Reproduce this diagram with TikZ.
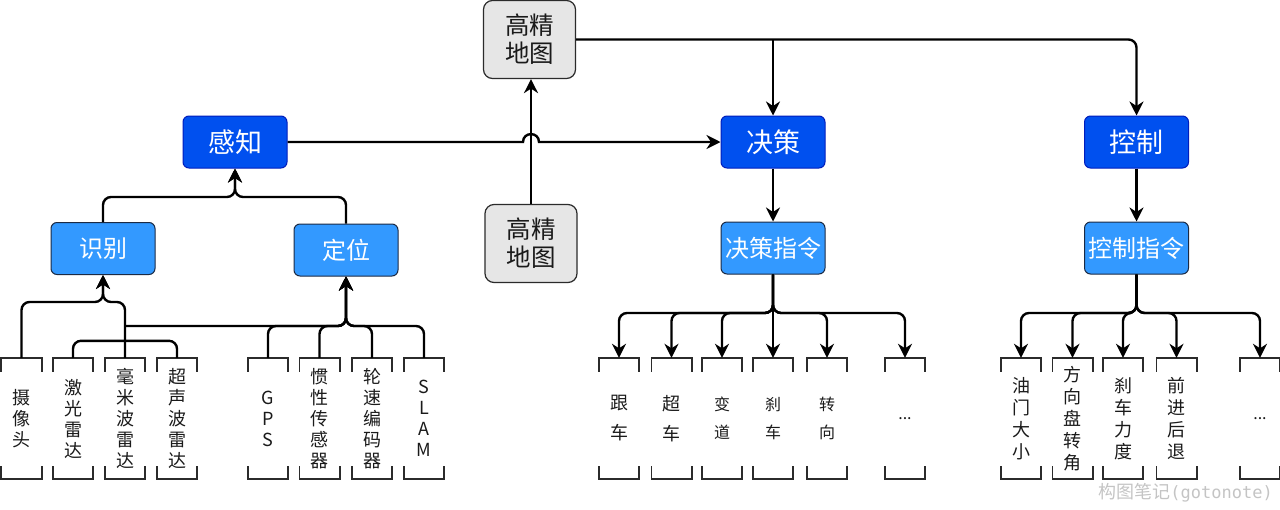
\documentclass[tikz,border=0pt]{standalone}
\usepackage{fontspec}
\setmainfont{Noto Sans CJK SC}
\newfontfamily\wmmono{DejaVu Sans Mono}
\usetikzlibrary{arrows.meta,calc}
\definecolor{dblue}{HTML}{0050EF}
\definecolor{dbluedraw}{HTML}{001DBC}
\definecolor{lblue}{HTML}{3399FF}
\definecolor{lbluedraw}{HTML}{1B2A44}
\definecolor{gfill}{HTML}{E6E6E6}
\definecolor{gdraw}{HTML}{2B2B2B}
\definecolor{txtc}{HTML}{1A1A1A}
\definecolor{wmc}{HTML}{C4C4C4}
\begin{document}
\begin{tikzpicture}[x=1pt,y=-1pt,
  conn/.style={line width=2.4pt, draw=black, rounded corners=8pt},
  arr/.style={conn, -{Stealth[length=14pt,width=14pt,inset=4.5pt]}},
  bluebase/.style={rounded corners=6pt, line width=1pt, minimum width=104pt,
    minimum height=52pt, inner sep=0pt, text=white},
  dbox/.style={bluebase, fill=dblue, draw=dbluedraw, font=\fontsize{27}{30}\selectfont},
  lbox/.style={bluebase, fill=lblue, draw=lbluedraw, font=\fontsize{24}{28}\selectfont},
  gbox/.style={rounded corners=9pt, line width=1.2pt, fill=gfill, draw=gdraw,
    minimum width=92pt, minimum height=78pt, inner sep=0pt, align=center,
    text=txtc, font=\fontsize{24.5}{28}\selectfont},
  brk/.style={minimum width=40pt, minimum height=121pt, inner sep=0pt,
    align=center, text=txtc, font=\fontsize{18}{21}\selectfont},
  brkwide/.style={brk, font=\fontsize{18}{30}\selectfont},
  brksmall/.style={brk, font=\fontsize{16}{28}\selectfont},
  brkmid/.style={brk, font=\fontsize{18}{22}\selectfont},
  brkline/.style={line width=1.6pt, draw=gdraw}
]
\useasboundingbox (0,0) rectangle (1280,509);

% main boxes
\node[gbox] (hd1) at (529.5,39.5) {高精\\地图};
\node[gbox] (hd2) at (531,243.5) {高精\\地图};
\node[dbox] (gz) at (235,142) {感知};
\node[lbox] (sb) at (103,248.5) {识别};
\node[lbox] (dw) at (346,250) {定位};
\node[dbox] (jc) at (773,142) {决策};
\node[lbox] (jczl) at (773,248) {决策指令};
\node[dbox] (kz) at (1136.5,142) {控制};
\node[lbox] (kzzl) at (1136.5,248) {控制指令};

% bottom items, left
\node[brk] (cam) at (21.5,418.5) {摄\\像\\头};
\node[brk] (jg) at (73,418.5) {激\\光\\雷\\达};
\node[brk] (mmw) at (125,418.5) {毫\\米\\波\\雷\\达};
\node[brk] (cs) at (177,418.5) {超\\声\\波\\雷\\达};
\node[brk] (gps) at (268,418.5) {G\\P\\S};
\node[brk] (gx) at (319.5,418.5) {惯\\性\\传\\感\\器};
\node[brk] (ls) at (372,418.5) {轮\\速\\编\\码\\器};
\node[brk] (slam) at (424,418.5) {S\\L\\A\\M};

% bottom items, decision
\node[brkwide] (gc) at (619,418.5) {跟\\车};
\node[brkwide] (cc) at (671.5,418.5) {超\\车};
\node[brksmall] (bd) at (722,418.5) {变\\道};
\node[brksmall] (sc) at (773,418.5) {刹\\车};
\node[brksmall] (zx) at (827,418.5) {转\\向};
\node[brksmall] (dt1) at (905,418.5) {...};

% bottom items, control
\node[brkmid] (ym) at (1021,418.5) {油\\门\\大\\小};
\node[brkmid] (fx) at (1072.5,418.5) {方\\向\\盘\\转\\角};
\node[brkmid] (sl) at (1123,418.5) {刹\\车\\力\\度};
\node[brkmid] (qj) at (1176.5,418.5) {前\\进\\后\\退};
\node[brksmall] (dt2) at (1260,418.5) {...};

% bracket outlines
\foreach \n in {cam,jg,mmw,cs,gps,gx,ls,slam,gc,cc,bd,sc,zx,dt1,ym,fx,sl,qj,dt2}{
  \draw[brkline] ([yshift=-14pt]\n.north west) -- (\n.north west) -- (\n.north east) -- ([yshift=-14pt]\n.north east);
  \draw[brkline] ([yshift=13pt]\n.south west) -- (\n.south west) -- (\n.south east) -- ([yshift=13pt]\n.south east);
}

% watermark
\node[anchor=east, text=wmc, inner sep=0pt] (wm) at (1273,493)
  {\fontsize{18}{20}\selectfont 构图笔记{\wmmono\fontsize{17}{20}\selectfont (gotonote)}};

% junction coordinates
\coordinate (j1) at (235,197);
\coordinate (j2) at (103,302);
\coordinate (j3) at (346,326);
\coordinate (j4) at (773,313);
\coordinate (j5) at (1136.5,313);

% 感知 -> 决策 with line hop
\draw[arr, sharp corners] (gz.east) -- ($(gz.east -| hd2.north)+(-8,0)$)
  .. controls +(0,-10.5) and +(0,-10.5) .. ($(gz.east -| hd2.north)+(8,0)$) -- (jc.west);

% 高精地图 -> 高精地图
\draw[arr] (hd2.north) -- (hd2.north |- hd1.south);

% 高精地图 -> 决策 / 控制
\draw[arr] (hd1.east) -| (kz.north);
\draw[arr] (hd1.east -| jc.north) -- (jc.north);

% 决策 -> 决策指令, 控制 -> 控制指令
\draw[arr] (jc.south) -- (jczl.north);
\draw[arr] (kz.south) -- (kzzl.north);

% 识别 / 定位 -> 感知
\draw[arr] (sb.north) |- (j1) -- (gz.south);
\draw[arr] (dw.north) |- (j1) -- (gz.south);

% sensors -> 识别
\draw[arr] (cam.north) |- (j2) -- (sb.south);
\draw[arr] (mmw.north) |- (j2) -- (sb.south);
\draw[conn] (jg.north) -- ++(0,-17) -| (cs.north);

% sensors -> 定位
\draw[arr] (mmw.north |- j3) -- (j3) -- (dw.south);
\draw[arr] (gps.north) |- (j3) -- (dw.south);
\draw[arr] (gx.north) |- (j3) -- (dw.south);
\draw[arr] (ls.north) |- (j3) -- (dw.south);
\draw[arr] (slam.north) |- (j3) -- (dw.south);

% 决策指令 -> items
\draw[arr] (jczl.south) -- (j4) -| (gc.north);
\draw[arr] (jczl.south) -- (j4) -| (cc.north);
\draw[arr] (jczl.south) -- (j4) -| (bd.north);
\draw[arr] (jczl.south) -- (sc.north);
\draw[arr] (jczl.south) -- (j4) -| (zx.north);
\draw[arr] (jczl.south) -- (j4) -| (dt1.north);

% 控制指令 -> items
\draw[arr] (kzzl.south) -- (j5) -| (ym.north);
\draw[arr] (kzzl.south) -- (j5) -| (fx.north);
\draw[arr] (kzzl.south) -- (j5) -| (sl.north);
\draw[arr] (kzzl.south) -- (j5) -| (qj.north);
\draw[arr] (kzzl.south) -- (j5) -| (dt2.north);
\end{tikzpicture}
\end{document}
